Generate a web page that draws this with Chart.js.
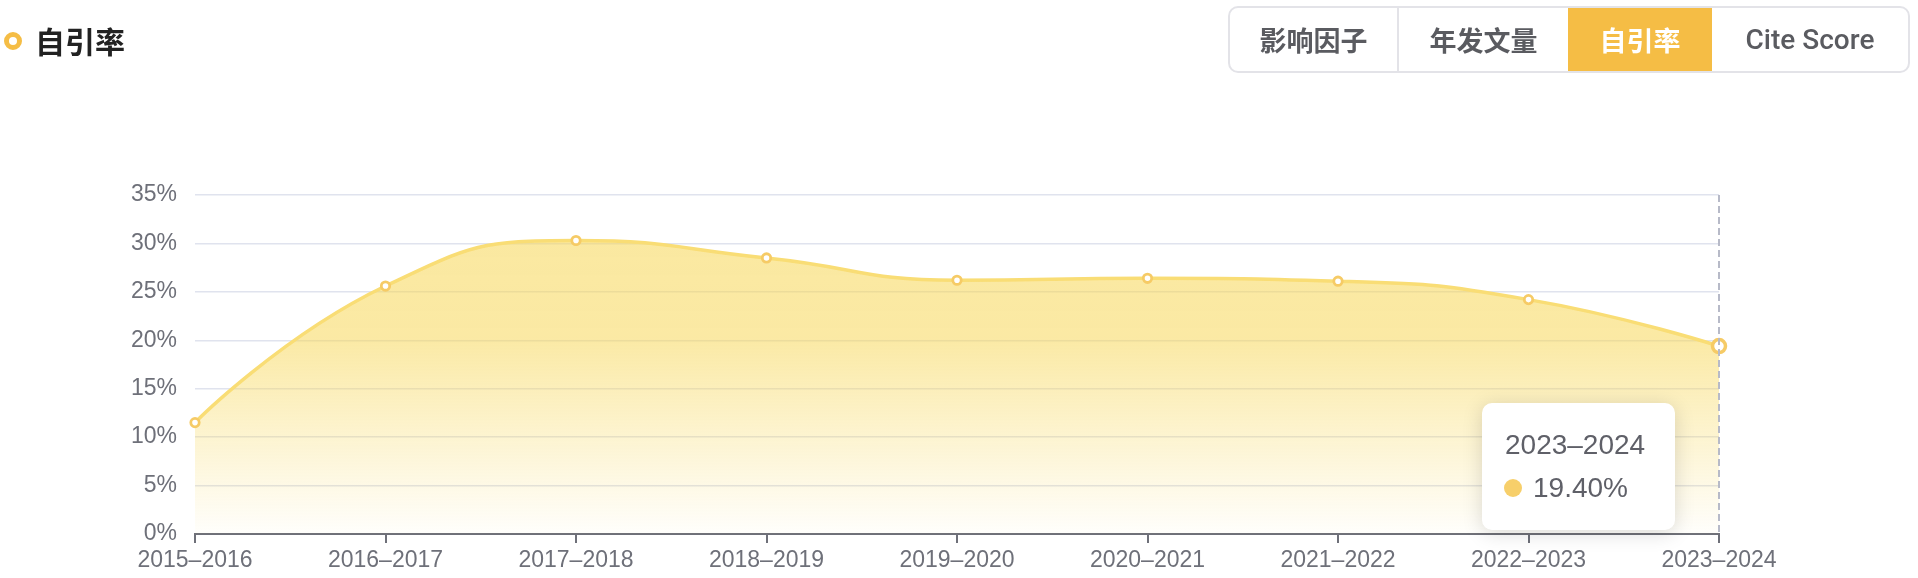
<!DOCTYPE html>
<html><head><meta charset="utf-8">
<script src="https://cdn.jsdelivr.net/npm/chart.js@4.4.1/dist/chart.umd.min.js"></script>
<style>
html,body{margin:0;padding:0;background:#fff;width:1918px;height:578px;overflow:hidden;font-family:"Liberation Sans","Noto Sans CJK SC",sans-serif;}
#wrap{position:relative;width:1918px;height:578px;}
#chart{position:absolute;left:0;top:0;}
.title{position:absolute;left:35px;top:18px;height:44px;line-height:44px;font-size:30px;font-weight:700;color:#222;font-family:"Noto Sans CJK SC",sans-serif;}
.dot{position:absolute;left:4px;top:32px;width:8px;height:8px;border:5px solid #F5BD45;border-radius:50%;}
.tabs{position:absolute;left:1228px;top:6px;width:682px;height:67px;box-sizing:border-box;border:2px solid #E3E3E8;border-radius:10px;overflow:hidden;display:flex;}
.tab{height:100%;display:flex;align-items:center;justify-content:center;font-size:27px;font-weight:700;color:#5a5b60;box-sizing:border-box;font-family:"Noto Sans CJK SC",sans-serif;}
.tab.en{font-family:Roboto,"Liberation Sans",sans-serif;font-size:28px;font-weight:500;}
.tab.sep{border-right:2px solid #E3E3E8;}
.tab.active{background:#F5BD45;color:#fff;}
#tip{position:absolute;width:193px;height:127px;box-sizing:border-box;background:#fff;border-radius:10px;box-shadow:0 3px 20px rgba(0,0,0,0.15);color:#5f6068;}
#tipTitle{position:absolute;left:23px;top:24px;font-size:28px;line-height:36px;}
#tipDot{position:absolute;left:22px;top:76px;width:18px;height:18px;border-radius:50%;background:#F7CF6A;}
#tipVal{position:absolute;left:51px;top:67px;font-size:28px;line-height:36px;}
</style></head>
<body>
<div id="wrap">
  <canvas id="chart" width="1918" height="578"></canvas>
  <div class="dot"></div>
  <div class="title">自引率</div>
  <div class="tabs">
    <div class="tab sep" style="width:169px">影响因子</div>
    <div class="tab" style="width:169px">年发文量</div>
    <div class="tab active" style="width:144px">自引率</div>
    <div class="tab en" style="width:196px">Cite Score</div>
  </div>
  <div id="tip"><div id="tipTitle"></div><div id="tipDot"></div><div id="tipVal"></div></div>
</div>
<script>
const categories = ['2015–2016','2016–2017','2017–2018','2018–2019','2019–2020','2020–2021','2021–2022','2022–2023','2023–2024'];
const selfCiteRate = [11.5, 25.6, 30.3, 28.5, 26.2, 26.4, 26.1, 24.2, 19.4];
const yMin = 0, yMax = 35, yStep = 5;
const activeIndex = categories.length - 1;

const axisColor = '#6E7079';
const gridColor = '#E0E3EE';
const tickFont = {family: '"Liberation Sans", sans-serif', size: 23};

// smooth curve with control points constrained between neighbours (no overshoot)
const smoothPlugin = {
  id: 'constrainedSmooth',
  beforeDraw(chart) {
    const meta = chart.getDatasetMeta(0);
    const line = meta.dataset;
    line.updateControlPoints(chart.chartArea, 'x');
    const pts = meta.data;
    const n = pts.length, s = 0.5;
    pts.forEach(p => { p.cp1x = p.x; p.cp1y = p.y; p.cp2x = p.x; p.cp2y = p.y; });
    for (let i = 1; i < n - 1; i++) {
      const p = pts[i], a = pts[i - 1], b = pts[i + 1];
      const x = p.x, y = p.y;
      let vx = b.x - a.x, vy = b.y - a.y;
      const lp = Math.hypot(x - a.x, y - a.y), ln = Math.hypot(b.x - x, b.y - y);
      const r = ln / (ln + lp);
      let nx = x + vx * s * r, ny = y + vy * s * r;
      nx = Math.max(Math.min(nx, Math.max(b.x, x)), Math.min(b.x, x));
      ny = Math.max(Math.min(ny, Math.max(b.y, y)), Math.min(b.y, y));
      vx = nx - x; vy = ny - y;
      let px = x - vx * lp / ln, py = y - vy * lp / ln;
      px = Math.max(Math.min(px, Math.max(a.x, x)), Math.min(a.x, x));
      py = Math.max(Math.min(py, Math.max(a.y, y)), Math.min(a.y, y));
      vx = x - px; vy = y - py;
      nx = x + vx * ln / lp; ny = y + vy * ln / lp;
      p.cp1x = px; p.cp1y = py; p.cp2x = nx; p.cp2y = ny;
    }
  }
};

const hoverPlugin = {
  id: 'hoverGuide',
  afterDatasetsDraw(chart) {
    const {ctx, chartArea, scales} = chart;
    const x = scales.x.getPixelForValue(activeIndex);
    ctx.save();
    ctx.strokeStyle = '#B7BAC8';
    ctx.lineWidth = 2;
    ctx.setLineDash([7, 4]);
    ctx.beginPath();
    ctx.moveTo(x, chartArea.top);
    ctx.lineTo(x, chartArea.bottom);
    ctx.stroke();
    ctx.restore();
  },
  afterDraw(chart) {
    const x = chart.scales.x.getPixelForValue(activeIndex);
    const y = chart.scales.y.getPixelForValue(selfCiteRate[activeIndex]);
    const tip = document.getElementById('tip');
    tip.style.left = (x - 237) + 'px';
    tip.style.top = (y + 57) + 'px';
    document.getElementById('tipTitle').textContent = categories[activeIndex];
    document.getElementById('tipVal').textContent = selfCiteRate[activeIndex].toFixed(2) + '%';
  }
};

new Chart(document.getElementById('chart'), {
  type: 'line',
  data: {
    labels: categories,
    datasets: [{
      data: selfCiteRate,
      borderColor: '#F9DD75',
      borderWidth: 3.5,
      tension: 0.5,
      fill: 'origin',
      clip: false,
      backgroundColor: (c) => {
        const a = c.chart.chartArea;
        if (!a) return 'rgba(247,214,83,0.55)';
        const g = c.chart.ctx.createLinearGradient(0, a.top, 0, a.bottom);
        g.addColorStop(0, 'rgba(247,214,83,0.56)');
        g.addColorStop(0.42, 'rgba(247,214,83,0.53)');
        g.addColorStop(1, 'rgba(247,214,83,0.02)');
        return g;
      },
      pointBackgroundColor: '#fff',
      pointBorderColor: '#F6CB66',
      pointRadius: (c) => c.dataIndex === activeIndex ? 6.5 : 4.2,
      pointBorderWidth: (c) => c.dataIndex === activeIndex ? 3.5 : 2.8
    }]
  },
  options: {
    responsive: false,
    devicePixelRatio: 1,
    animation: false,
    events: [],
    layout: {padding: {top: 195, left: 0, right: 199, bottom: 0}},
    plugins: {legend: {display: false}, tooltip: {enabled: false}},
    scales: {
      x: {
        offset: false,
        afterFit: (s) => { s.height = 44; },
        grid: {drawOnChartArea: false, drawTicks: true, tickLength: 9, color: axisColor, lineWidth: 2},
        border: {display: true, color: axisColor, width: 2},
        ticks: {color: axisColor, font: tickFont, padding: 4, maxRotation: 0, autoSkip: false}
      },
      y: {
        min: yMin, max: yMax,
        afterFit: (s) => { s.width = 195; },
        grid: {color: gridColor, lineWidth: 1.5, drawTicks: false},
        border: {display: false},
        ticks: {stepSize: yStep, color: axisColor, font: tickFont, padding: 18, callback: (v) => v + '%'}
      }
    }
  },
  plugins: [smoothPlugin, hoverPlugin]
});
</script>
</body></html>
